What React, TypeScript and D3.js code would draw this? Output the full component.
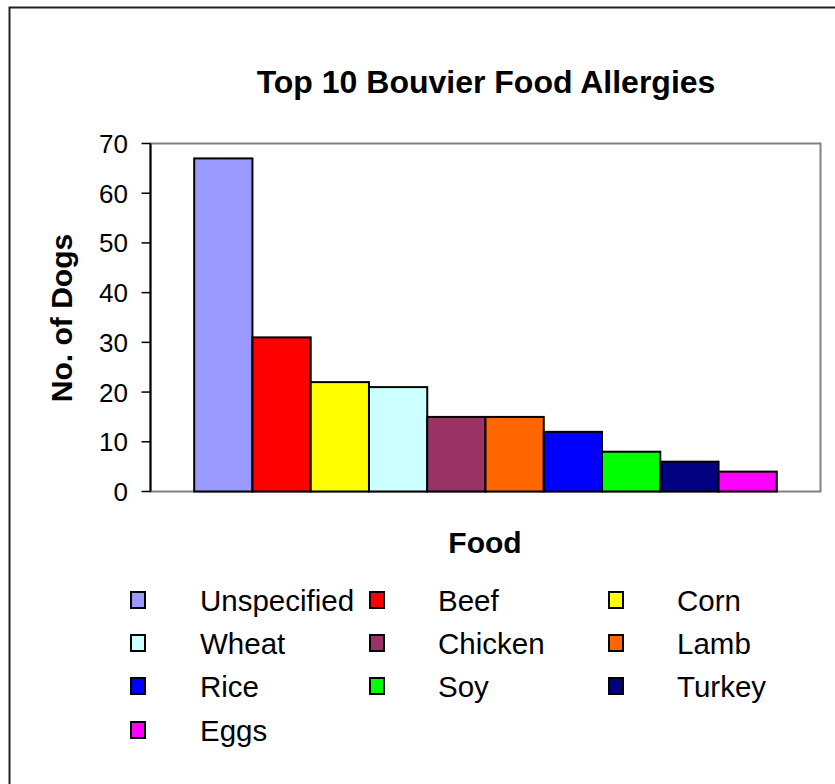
import React from "react";
import * as d3 from "d3";

const categories = ["Unspecified", "Beef", "Corn", "Wheat", "Chicken", "Lamb", "Rice", "Soy", "Turkey", "Eggs"];
const values = [67, 31, 22, 21, 15, 15, 12, 8, 6, 4];
const colors = ["#9999FF", "#FF0000", "#FFFF00", "#CCFFFF", "#993366", "#FF6600", "#0000FF", "#00FF00", "#000080", "#FF00FF"];
const yTicks = [0, 10, 20, 30, 40, 50, 60, 70];

const W = 835;
const H = 784;
const FONT = "'Liberation Sans', Arial, sans-serif";

export default function App() {
  const plot = { left: 150.5, right: 820.5, top: 143.5, bottom: 491.5 };
  const y = d3.scaleLinear().domain([0, 70]).range([plot.bottom, plot.top]);
  // Excel-style clustered series with 150% gap width
  const gapFrac = 1.5;
  const n = categories.length;
  const bw = (plot.right - plot.left) / (n + gapFrac);
  const x = d3
    .scaleBand<string>()
    .domain(categories)
    .range([plot.left + (bw * gapFrac) / 2, plot.right - (bw * gapFrac) / 2])
    .padding(0);

  const legendCols = [131, 370, 609];
  const legendTextX = [200, 438, 677];
  const legendRowY = [600, 643, 686, 730];

  return (
    <svg
      width={W}
      height={H}
      style={{ position: "absolute", left: 0, top: 0, background: "#fff" }}
      fontFamily={FONT}
    >
      <rect x={0} y={0} width={W} height={H} fill="#fff" />
      {/* outer chart border (cropped on right and bottom) */}
      <rect x={9.5} y={7.5} width={1000} height={1000} fill="none" stroke="#222" strokeWidth={2} />

      <text x={486} y={93} textAnchor="middle" fontWeight="bold" fontSize={32}>
        Top 10 Bouvier Food Allergies
      </text>

      {/* plot area border */}
      <rect
        x={plot.left}
        y={plot.top}
        width={plot.right - plot.left}
        height={plot.bottom - plot.top}
        fill="#fff"
        stroke="#808080"
        strokeWidth={2}
      />

      {values.map((v, i) => (
        <rect
          key={categories[i]}
          x={x(categories[i])!}
          y={y(v)}
          width={x.bandwidth()}
          height={y(0) - y(v)}
          fill={colors[i]}
          stroke="#000"
          strokeWidth={2}
        />
      ))}

      {/* y axis */}
      <line x1={plot.left} x2={plot.left} y1={plot.top} y2={plot.bottom} stroke="#000" strokeWidth={2} />
      {yTicks.map((t) => (
        <g key={t}>
          <line x1={plot.left - 9} x2={plot.left} y1={y(t)} y2={y(t)} stroke="#000" strokeWidth={1.5} />
          <text x={128} y={y(t) + 9.5} textAnchor="end" fontSize={26}>
            {t}
          </text>
        </g>
      ))}

      <text
        transform={`translate(72,318) rotate(-90)`}
        textAnchor="middle"
        fontWeight="bold"
        fontSize={30}
      >
        No. of Dogs
      </text>
      <text x={485} y={553} textAnchor="middle" fontWeight="bold" fontSize={30}>
        Food
      </text>

      {categories.map((c, i) => {
        const col = i % 3;
        const row = Math.floor(i / 3);
        const cy = legendRowY[row];
        return (
          <g key={c}>
            <rect x={legendCols[col]} y={cy - 8} width={14} height={16} fill={colors[i]} stroke="#000" strokeWidth={2} />
            <text x={legendTextX[col]} y={cy + 10.5} fontSize={29.5}>
              {c}
            </text>
          </g>
        );
      })}
    </svg>
  );
}
